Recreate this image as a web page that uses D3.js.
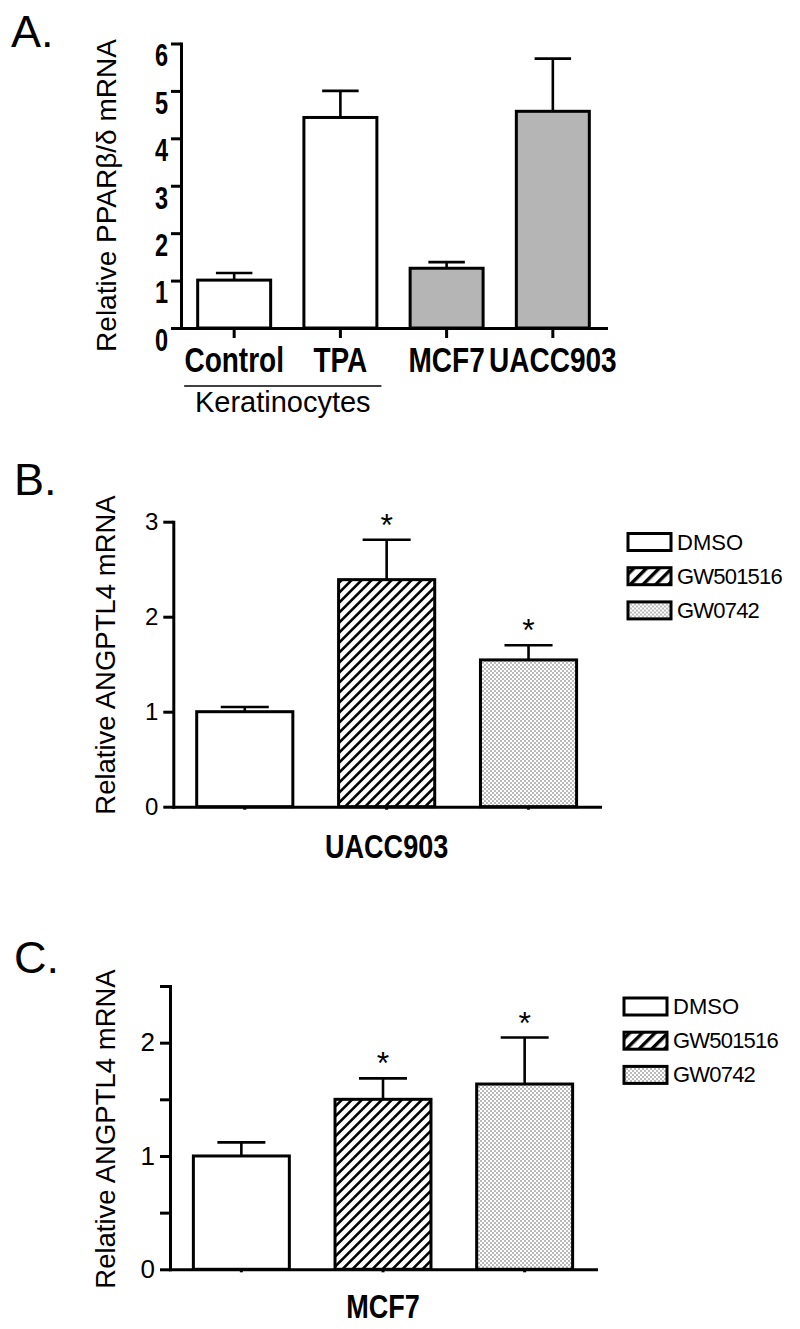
<!DOCTYPE html>
<html>
<head>
<meta charset="utf-8">
<script src="https://cdn.jsdelivr.net/npm/d3@7"></script>
<style>
  body { margin: 0; background: #fff; }
  svg { display: block; font-family: "Liberation Sans", Arial, sans-serif; }
</style>
</head>
<body>
<svg></svg>
<script>
// panel A: PPARb/d expression
const panelACategories = ['Control', 'TPA', 'MCF7', 'UACC903'];
const panelAValues = [1.01, 4.44, 1.26, 4.57];
const panelAErrors = [0.15, 0.56, 0.13, 1.11];
const panelAFills = ['white', 'white', 'grey', 'grey'];
const panelATicks = [0, 1, 2, 3, 4, 5, 6];

// panels B and C: ANGPTL4 expression
const treatments = ['DMSO', 'GW501516', 'GW0742'];
const treatmentFills = ['white', 'hatch', 'dots'];
const significant = [false, true, true];

const panelBValues = [1.0, 2.39, 1.545];
const panelBErrors = [0.05, 0.42, 0.155];
const panelBTicks = [0, 1, 2, 3];

const panelCValues = [1.0, 1.5, 1.635];
const panelCErrors = [0.12, 0.185, 0.41];
const panelCTicks = [0, 0.5, 1, 1.5, 2, 2.5];

const svg = d3.select('svg').attr('width', 800).attr('height', 1329);
const defs = svg.append('defs');

function hatch(id, size, w) {
  const p = defs.append('pattern').attr('id', id)
    .attr('patternUnits', 'userSpaceOnUse')
    .attr('width', size).attr('height', size)
    .attr('patternTransform', 'rotate(45)');
  p.append('rect').attr('width', size).attr('height', size).attr('fill', '#fff');
  p.append('line').attr('x1', w / 2).attr('x2', w / 2).attr('y1', 0).attr('y2', size)
    .attr('stroke', '#000').attr('stroke-width', w);
}
hatch('hatch', 7.07, 2.6);
hatch('hatchLegend', 9, 3.4);

const dots = defs.append('pattern').attr('id', 'dots')
  .attr('patternUnits', 'userSpaceOnUse').attr('width', 4).attr('height', 4);
dots.append('rect').attr('width', 4).attr('height', 4).attr('fill', '#fff');
dots.append('circle').attr('cx', 1).attr('cy', 1).attr('r', 0.75).attr('fill', '#555');
dots.append('circle').attr('cx', 3).attr('cy', 3).attr('r', 0.75).attr('fill', '#555');

const fillOf = f => f === 'white' ? '#fff' : f === 'grey' ? '#b5b5b5' : `url(#${f})`;

function styleAxis(g) {
  g.select('.domain').attr('stroke', '#000').attr('stroke-width', 3).attr('stroke-linecap', 'square');
  g.selectAll('.tick line').attr('stroke', '#000').attr('stroke-width', 3);
}

// bold text squeezed horizontally, keeping its anchor point
function narrow(sel, size, k) {
  sel.each(function() {
    const t = d3.select(this);
    const x = +t.attr('x') || 0;
    t.attr('x', x / k).attr('transform', `scale(${k},1)`);
  })
  .attr('font-weight', 'bold').attr('font-size', size).attr('fill', '#000');
}

function bars(g, cats, vals, errs, fills, x, y) {
  const bw = x.bandwidth();
  const cap = bw * 0.5;
  cats.forEach((c, i) => {
    const cx = x(c) + bw / 2;
    const top = y(vals[i] + errs[i]);
    g.append('line').attr('x1', cx).attr('x2', cx).attr('y1', y(vals[i])).attr('y2', top)
      .attr('stroke', '#000').attr('stroke-width', 2.6);
    g.append('line').attr('x1', cx - cap / 2).attr('x2', cx + cap / 2).attr('y1', top).attr('y2', top)
      .attr('stroke', '#000').attr('stroke-width', 2.6);
    g.append('rect').attr('x', x(c)).attr('width', bw)
      .attr('y', y(vals[i])).attr('height', y(0) - y(vals[i]))
      .attr('fill', fillOf(fills[i])).attr('stroke', '#000').attr('stroke-width', 3);
  });
}

// ---------- A ----------
const xA = d3.scaleBand().domain(panelACategories).range([181, 606]).paddingInner(0.313).paddingOuter(0.157);
const yA = d3.scaleLinear().domain([0, 6]).range([328, 43.5]);
const gA = svg.append('g');

bars(gA, panelACategories, panelAValues, panelAErrors, panelAFills, xA, yA);

gA.append('g').attr('transform', 'translate(0,328)')
  .call(d3.axisBottom(xA).tickSize(10).tickSizeOuter(0))
  .call(styleAxis)
  .call(g => g.selectAll('text').attr('y', 44).attr('dy', 0).call(narrow, 35, 0.8));

gA.append('g').attr('transform', 'translate(181,0)')
  .call(d3.axisLeft(yA).tickValues(panelATicks).tickFormat(d3.format('d'))
    .tickSize(10).tickSizeOuter(0).tickPadding(3))
  .call(styleAxis)
  .call(g => g.selectAll('text').attr('dy', '0.72em').call(narrow, 31, 0.76));

const kLeft = xA('Control') + xA.bandwidth() / 2 - 50;
const kRight = xA('TPA') + xA.bandwidth() / 2 + 41;
gA.append('line').attr('x1', kLeft).attr('x2', kRight).attr('y1', 386).attr('y2', 386)
  .attr('stroke', '#000').attr('stroke-width', 1.5);
gA.append('text').attr('x', (kLeft + kRight) / 2).attr('y', 412).attr('text-anchor', 'middle')
  .attr('font-size', 29).text('Keratinocytes');

gA.append('text').attr('transform', 'translate(116,195.5) rotate(-90)').attr('text-anchor', 'middle')
  .attr('font-size', 28).text('Relative PPARβ/δ mRNA');
svg.append('text').attr('x', 11).attr('y', 47).attr('font-size', 45).text('A.');

// ---------- B and C ----------
function treatmentPanel(o) {
  const g = svg.append('g');
  const x = d3.scaleBand().domain(treatments).range([o.left, o.right]).paddingInner(0.3225).paddingOuter(0.165);
  const y = d3.scaleLinear().domain([0, o.max]).range([o.bottom, o.top]);

  bars(g, treatments, o.values, o.errors, treatmentFills, x, y);

  treatments.forEach((t, i) => {
    if (!significant[i]) return;
    g.append('text').attr('x', x(t) + x.bandwidth() / 2).attr('y', y(o.values[i] + o.errors[i]) - 4)
      .attr('text-anchor', 'middle').attr('font-size', 32).text('*');
  });

  g.append('g').attr('transform', `translate(0,${o.bottom})`)
    .call(d3.axisBottom(x).tickSize(3).tickSizeOuter(0).tickFormat(''))
    .call(styleAxis);

  g.append('g').attr('transform', `translate(${o.left},0)`)
    .call(d3.axisLeft(y).tickValues(o.ticks).tickSize(10).tickSizeOuter(0).tickPadding(5)
      .tickFormat(d => Number.isInteger(d) ? d : ''))
    .call(styleAxis)
    .call(g => g.selectAll('text').attr('font-size', o.tickFont).attr('fill', '#000')
      .attr('font-family', '"Liberation Sans", Arial, sans-serif'));

  g.append('text').attr('x', x(treatments[1]) + x.bandwidth() / 2)
    .attr('y', o.labelY).attr('text-anchor', 'middle').text(o.cell).call(narrow, 33, 0.82);

  g.append('text').attr('transform', `translate(115,${o.yLabelMid}) rotate(-90)`).attr('text-anchor', 'middle')
    .attr('font-size', 27.5).text('Relative ANGPTL4 mRNA');
  svg.append('text').attr('x', 14).attr('y', o.letterY).attr('font-size', 45).text(o.letter);

  const leg = g.append('g').attr('transform', `translate(${o.legX},${o.legY})`);
  treatments.forEach((t, i) => {
    const f = treatmentFills[i] === 'hatch' ? 'hatchLegend' : treatmentFills[i];
    leg.append('rect').attr('x', 0).attr('y', i * 34.2).attr('width', 43).attr('height', 17)
      .attr('fill', fillOf(f)).attr('stroke', '#000').attr('stroke-width', 3);
    leg.append('text').attr('x', 49).attr('y', i * 34.2 + 16).attr('font-size', 22)
      .attr('letter-spacing', t === 'DMSO' ? 0 : -0.8).text(t);
  });
}

treatmentPanel({
  values: panelBValues, errors: panelBErrors, ticks: panelBTicks, max: 3,
  left: 173.3, right: 600, top: 521.7, bottom: 806.7, tickFont: 24,
  cell: 'UACC903', labelY: 858, yLabelMid: 655, letter: 'B.', letterY: 495,
  legX: 628, legY: 533.5
});

treatmentPanel({
  values: panelCValues, errors: panelCErrors, ticks: panelCTicks, max: 2.5,
  left: 170, right: 596, top: 986, bottom: 1269.3, tickFont: 26,
  cell: 'MCF7', labelY: 1318, yLabelMid: 1129, letter: 'C.', letterY: 973,
  legX: 624, legY: 998
});
</script>
</body>
</html>
